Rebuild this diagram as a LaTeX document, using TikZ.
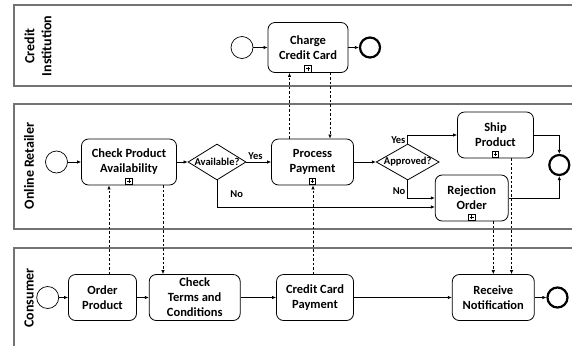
\documentclass[tikz,border=0pt]{standalone}
\usepackage{fontspec}
\setmainfont{Carlito}
\usetikzlibrary{shapes.geometric, arrows.meta}

\begin{document}
\begin{tikzpicture}[x=1pt, y=-1pt,
    pool/.style={draw=black!55, line width=1.2pt},
    lanetext/.style={rotate=90, align=center, font=\fontsize{14}{17}\selectfont\bfseries},
    task/.style={draw, line width=0.8pt, rounded corners=7pt, align=center, minimum height=46pt, inner sep=1pt, font=\fontsize{12.5}{15}\selectfont\bfseries},
    startev/.style={draw, circle, line width=0.7pt, minimum size=22pt, inner sep=0pt},
    endev/.style={draw, circle, line width=2.2pt, minimum size=20pt, inner sep=0pt},
    gateway/.style={draw, diamond, line width=0.8pt, minimum height=36pt, inner sep=0pt},
    gwtext/.style={font=\fontsize{10.5}{12}\selectfont\bfseries, inner sep=0pt},
    small/.style={font=\fontsize{10.5}{12}\selectfont\bfseries, inner sep=1pt},
    plusbox/.style={draw, line width=0.6pt, minimum size=6.5pt, inner sep=0pt, above=0.8pt,
      path picture={\draw[line width=0.5pt] ([yshift=-1.3pt]path picture bounding box.north) -- ([yshift=1.3pt]path picture bounding box.south)
        ([xshift=1.3pt]path picture bounding box.west) -- ([xshift=-1.3pt]path picture bounding box.east);}},
    flow/.style={-{Latex[length=4pt, width=3.5pt]}, line width=0.7pt},
    msg/.style={flow, dash pattern=on 2.5pt off 2pt}]
  \useasboundingbox (0,0) rectangle (572,346);

  % Pools:
  \draw[pool] (572,5) -- (14,5) -- (14,86) -- (572,86);
  \draw[pool] (572,104) -- (14,104) -- (14,229) -- (572,229);
  \draw[pool] (572,248) -- (14,248) -- (14,346);
  \node[lanetext] (ciLabel) at (38,46) {Credit\\Institution};
  \node[lanetext] (orLabel) at (29,166) {Online Retailer};
  \node[lanetext] (coLabel) at (29,298) {Consumer};

  % Credit Institution:
  \node[startev] (ciStart) at (242,47.5) {};
  \node[task, minimum width=80pt, minimum height=50pt] (charge) at (308,47.5) {Charge\\Credit Card};
  \node[endev] (ciEnd) at (370,47.5) {};
  \node[plusbox] (chargePlus) at (charge.south) {};
  \draw[flow] (ciStart) -- (charge);
  \draw[flow] (charge) -- (ciEnd);

  % Online Retailer:
  \node[startev] (orStart) at (56.5,162) {};
  \node[task, minimum width=95pt] (checkAvail) at (129,162) {Check Product\\Availability};
  \node[gateway, minimum width=58pt, label={[gwtext]center:Available?}] (avail) at (217,162) {};
  \node[task, minimum width=82pt] (procPay) at (312.5,162) {Process\\Payment};
  \node[gateway, minimum width=63pt, label={[gwtext]center:Approved?}] (approved) at (407.7,162) {};
  \node[task, minimum width=76pt] (ship) at (495.5,135) {Ship\\Product};
  \node[task, minimum width=73pt] (reject) at (471.7,198) {Rejection\\Order};
  \node[endev] (orEnd) at (559.3,165) {};
  \foreach \t in {checkAvail, procPay, ship, reject}
    \node[plusbox] (\t Plus) at (\t.south) {};
  \draw[flow] (orStart) -- (checkAvail);
  \draw[flow] (checkAvail) -- (avail);
  \draw[flow] (avail) -- node[small, pos=0.37, above=1pt] {Yes} (procPay);
  \draw[flow] (avail.south) |- node[small, pos=0.25, right=12pt] {No} ([yshift=-9pt]reject.west);
  \draw[flow] (procPay) -- (approved);
  \draw[flow] (approved.north) |- node[small, pos=0.2, left=1pt] {Yes} (ship.west);
  \draw[flow] (approved.south) |- node[small, pos=0.3, left=1pt] {No} (reject.west);
  \draw[flow] (ship.east) -| (orEnd.north);
  \draw[flow] (reject.east) -| (orEnd.south);

  % Consumer:
  \node[startev] (coStart) at (47.7,297.5) {};
  \node[task, minimum width=68pt] (order) at (102.5,297.5) {Order\\Product};
  \node[task, minimum width=91pt] (terms) at (194.7,297.5) {Check\\Terms and\\Conditions};
  \node[task, minimum width=77pt] (ccPay) at (315,297.5) {Credit Card\\Payment};
  \node[task, minimum width=82pt] (receive) at (493.3,297.5) {Receive\\Notification};
  \node[endev] (coEnd) at (557.5,297.5) {};
  \draw[flow] (coStart) -- (order);
  \draw[flow] (order) -- (terms);
  \draw[flow] (terms) -- (ccPay);
  \draw[flow] (ccPay) -- (receive);
  \draw[flow] (receive) -- (coEnd);

  % Messages:
  \draw[msg] ([xshift=6.5pt]order.north) -- ([xshift=6.5pt]order.north |- checkAvail.south);
  \draw[msg] ([xshift=34pt]checkAvail.south) -- ([xshift=34pt]checkAvail.south |- terms.north);
  \draw[msg] ([xshift=-23pt]procPay.north) -- ([xshift=-23pt]procPay.north |- charge.south);
  \draw[msg] ([xshift=22pt]charge.south) -- ([xshift=22pt]charge.south |- procPay.north);
  \draw[msg] ([xshift=-2pt]ccPay.north) -- ([xshift=-2pt]ccPay.north |- procPay.south);
  \draw[msg] ([xshift=21.6pt]reject.south) -- ([xshift=21.6pt]reject.south |- receive.north);
  \draw[msg] ([xshift=16pt]ship.south) -- ([xshift=16pt]ship.south |- receive.north);
\end{tikzpicture}
\end{document}
